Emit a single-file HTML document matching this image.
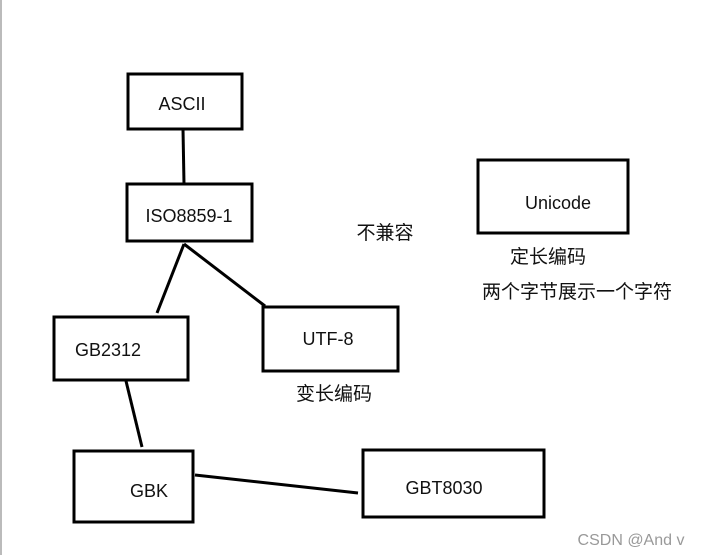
<!DOCTYPE html>
<html><head><meta charset="utf-8"><style>
html,body{margin:0;padding:0;background:#fff;width:707px;height:555px;overflow:hidden}
text{font-family:"Liberation Sans","Noto Sans CJK SC",sans-serif;fill:#111}
</style></head><body>
<svg width="707" height="555" xmlns="http://www.w3.org/2000/svg">
<rect x="0" y="0" width="2" height="555" fill="#bbb"/>
<g fill="none" stroke="#000" stroke-width="3">
<rect x="128" y="74" width="114" height="55"/>
<rect x="127" y="184" width="125" height="57"/>
<rect x="54" y="317" width="134" height="63"/>
<rect x="263" y="307" width="135" height="64"/>
<rect x="74" y="451" width="119" height="71"/>
<rect x="363" y="450" width="181" height="67"/>
<rect x="478" y="160" width="150" height="73"/>
<line x1="183" y1="129" x2="184" y2="184"/>
<line x1="184" y1="244" x2="157" y2="313"/>
<line x1="184" y1="244" x2="265" y2="306"/>
<line x1="126" y1="381" x2="142" y2="447"/>
<line x1="195" y1="475" x2="358" y2="493"/>
</g>
<g font-size="18" text-anchor="middle">
<text x="182" y="110">ASCII</text>
<text x="189" y="222">ISO8859-1</text>
<text x="108" y="356">GB2312</text>
<text x="328" y="345">UTF-8</text>
<text x="149" y="497">GBK</text>
<text x="444" y="494">GBT8030</text>
<text x="558" y="209">Unicode</text>
</g>
<g font-size="19" text-anchor="middle">
<text x="385" y="239">不兼容</text>
<text x="548" y="263">定长编码</text>
<text x="577" y="298">两个字节展示一个字符</text>
<text x="334" y="400">变长编码</text>
</g>
<text x="631" y="545" font-size="16" text-anchor="middle" style="fill:#999">CSDN @And v</text>
</svg>
</body></html>
